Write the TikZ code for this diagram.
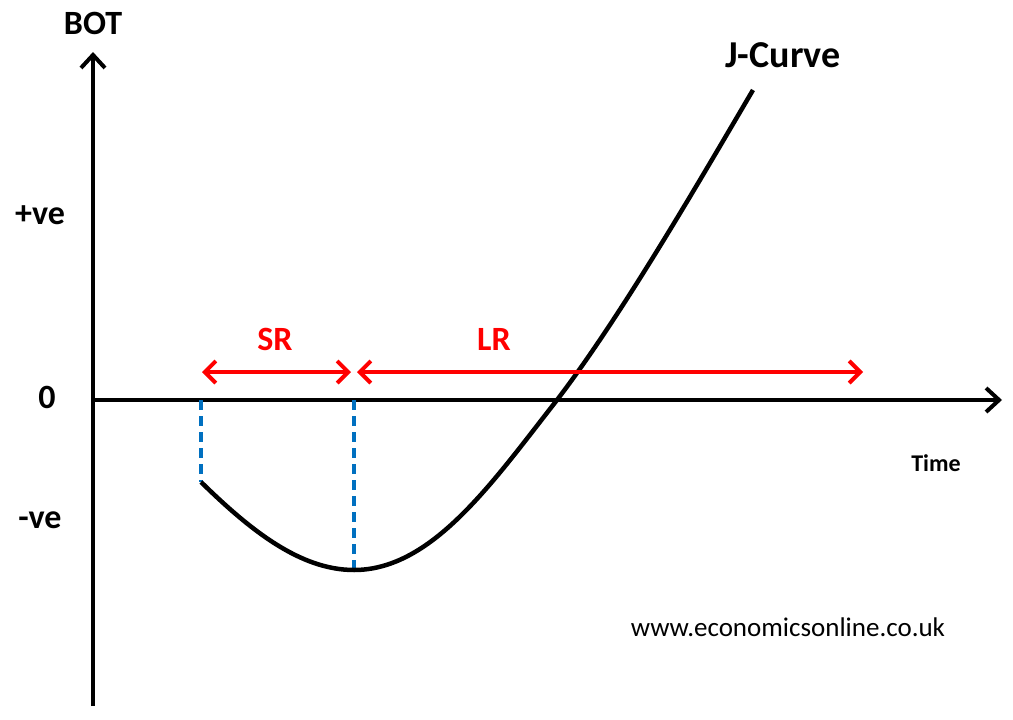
\documentclass[tikz,border=0pt]{standalone}
\usepackage{fontspec}
\setmainfont{Carlito}
\usetikzlibrary{arrows.meta}
\begin{document}
\begin{tikzpicture}[x=1pt,y=-1pt,
  lbl/.style={font=\bfseries\fontsize{34}{36}\selectfont},
  axis/.style={line width=4.5pt,-{Straight Barb[length=13pt,width=24pt,line width=4pt]}},
  redarr/.style={red,line width=4.5pt,{Straight Barb[length=11pt,width=22pt,line width=4pt]}-{Straight Barb[length=11pt,width=22pt,line width=4pt]}},
  bluedash/.style={color={rgb,255:red,0;green,112;blue,192},line width=3.5pt,dash pattern=on 10pt off 6pt}]
\useasboundingbox (0,0) rectangle (1013,720);
\coordinate (o) at (93,400);
\coordinate (ytop) at (93,52);
\coordinate (ybot) at (93,706);
\coordinate (xend) at (1002,400);
\draw[axis] (ybot) -- (ytop);
\draw[axis] (o) -- (xend);
\coordinate (s1) at (201,400); \coordinate (c1) at (201,482);
\coordinate (s2) at (354,400); \coordinate (c2) at (354,570);
\draw[bluedash] (s1) -- (c1);
\draw[bluedash] (s2) -- (c2);
\coordinate (top) at (753,90);
\draw[line width=4.5pt] (c1) .. controls (250,530) and (300,570) .. (c2) .. controls (432,570) and (492,483) .. (557,400) .. controls (622,315) and (700,180) .. (top);
\coordinate (a1) at (202,372); \coordinate (a2) at (351,372);
\coordinate (a3) at (357,372); \coordinate (a4) at (863,372);
\draw[redarr] (a1) -- (a2);
\draw[redarr] (a3) -- (a4);
\node[lbl,red] (sr) at (275,339) {SR};
\node[lbl,red] (lr) at (494,339) {LR};
\node[lbl] (bot) at (93,23) {BOT};
\node[lbl] (pve) at (40,215) {+ve};
\node[lbl] (zero) at (47,397) {0};
\node[lbl] (nve) at (40,520) {-ve};
\node[font=\bfseries\fontsize{38}{40}\selectfont] (jc) at (783,55) {J-Curve};
\node[font=\bfseries\fontsize{24}{26}\selectfont] (time) at (936,463) {Time};
\node[font=\fontsize{27}{29}\selectfont] (www) at (788,627) {www.economicsonline.co.uk};
\end{tikzpicture}
\end{document}
